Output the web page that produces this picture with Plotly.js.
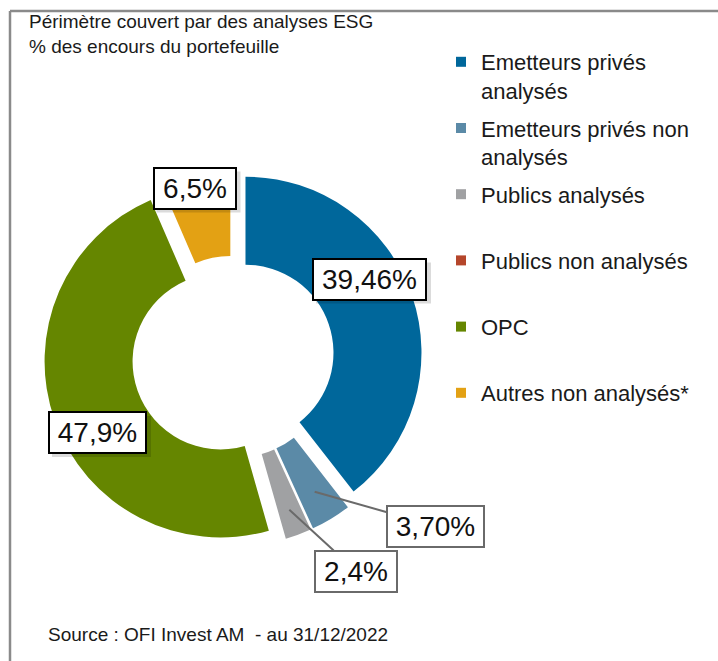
<!DOCTYPE html>
<html>
<head>
<meta charset="utf-8">
<script src="https://cdn.plot.ly/plotly-3.0.1.min.js"></script>
<style>
  html, body { margin: 0; padding: 0; background: #ffffff; }
  #chart { width: 718px; height: 661px; }
</style>
</head>
<body>
<div id="chart"></div>
<script>
// ---- Data ----
const titleLines = ["Périmètre couvert par des analyses ESG", "% des encours du portefeuille"];
const sourceText = "Source : OFI Invest AM  - au 31/12/2022";
const categories = [
  "Emetteurs privés<br>analysés",
  "Emetteurs privés non<br>analysés",
  "Publics analysés",
  "Publics non analysés",
  "OPC",
  "Autres non analysés*"
];
const values = [39.46, 3.70, 2.4, 0, 47.9, 6.5];
const labelDecimals = [2, 2, 1, 1, 1, 1];
const colors = ["#00679B", "#5B8AA7", "#A0A1A3", "#B5462B", "#658600", "#E3A114"];

// ---- Geometry (pixels) ----
const W = 718, H = 661;
const CX = 233, CY = 357, R = 176, PULL = 0.075, HOLE = 0.5;
const half = R * (1 + PULL);
const px2x = p => p / W;
const px2y = p => 1 - p / H;
const FONT = "Liberation Sans, Arial, sans-serif";
const LABEL_SIZE = 28;

const fmt = (v, d) => v.toFixed(d).replace('.', ',') + '%';
// approximate text width (Arial metrics) for box sizing
const textW = s => LABEL_SIZE * s.split('').reduce((a, ch) => a + (ch === ',' ? 0.278 : ch === '%' ? 0.889 : 0.556), 0);

const total = values.reduce((a, b) => a + b, 0);
const midAngles = [];
let cum = 0;
values.forEach(v => { midAngles.push((cum + v / 2) / total * 360); cum += v; });
function polar(i, rf) {
  const a = midAngles[i] * Math.PI / 180;
  const r = R * PULL + rf * R;
  return [CX + r * Math.sin(a), CY - r * Math.cos(a)];
}

const pie = {
  type: 'pie',
  labels: categories,
  values: values,
  sort: false,
  direction: 'clockwise',
  rotation: 0,
  hole: HOLE,
  pull: values.map(() => PULL),
  marker: { colors: colors, line: { width: 0 } },
  textinfo: 'none',
  hoverinfo: 'label+value',
  domain: { x: [px2x(CX - half), px2x(CX + half)], y: [px2y(CY + half), px2y(CY - half)] },
  showlegend: false
};

// Legend entries (one per category, same colours as the slices)
const legendTraces = categories.map((c, i) => ({
  type: 'scatter', mode: 'markers',
  x: [null], y: [null],
  name: c.includes('<br>') ? c : c + '<br>&nbsp;',
  legendgroup: 'g' + i,
  marker: { symbol: 'square', size: 10, color: colors[i] },
  showlegend: true, hoverinfo: 'skip'
}));

// Label boxes: index, box centre in px, arrow radius factor (null = no leader), border colour, shadow
const boxes = [
  { i: 0, bx: 369.5, by: 279, rf: null, bc: '#000000', sh: true },
  { i: 5, bx: 194.5, by: 188, rf: null, bc: '#000000', sh: true },
  { i: 4, bx: 97.5, by: 432.5, rf: null, bc: '#000000', sh: true },
  { i: 1, bx: 435.5, by: 526, rf: 0.82, bc: '#6A6A6A', sh: false },
  { i: 2, bx: 356, by: 571, rf: 0.85, bc: '#6A6A6A', sh: false }
];

const BOX_H = 41, PADX = 8;
const annotations = [];
const shapes = [];
boxes.forEach(b => {
  const txt = fmt(values[b.i], labelDecimals[b.i]);
  const w = Math.round(textW(txt) + PADX);
  if (b.sh) {
    const fullW = w + 2 * 4 + 4;
    shapes.push({
      type: 'rect', xref: 'paper', yref: 'paper', layer: 'above',
      x0: px2x(b.bx - fullW / 2 + 4), x1: px2x(b.bx + fullW / 2 + 4),
      y0: px2y(b.by + BOX_H / 2 + 4), y1: px2y(b.by - BOX_H / 2 + 4),
      fillcolor: 'rgba(0,0,0,0.14)', line: { width: 0 }
    });
  }
  const base = {
    text: txt, width: w,
    font: { family: FONT, size: LABEL_SIZE, color: '#111111' },
    bgcolor: '#ffffff', bordercolor: b.bc, borderwidth: 2, borderpad: 4
  };
  if (b.rf === null) {
    annotations.push(Object.assign(base, {
      xref: 'paper', yref: 'paper', x: px2x(b.bx), y: px2y(b.by),
      xanchor: 'center', yanchor: 'middle', showarrow: false
    }));
  } else {
    const [tx, ty] = polar(b.i, b.rf);
    annotations.push(Object.assign(base, {
      xref: 'paper', yref: 'paper', x: px2x(tx), y: px2y(ty),
      showarrow: true, arrowhead: 0, arrowwidth: 2, arrowcolor: '#6A6A6A',
      ax: b.bx - tx, ay: b.by - ty, standoff: 0
    }));
  }
});

// Title and source as text
annotations.push({
  xref: 'paper', yref: 'paper', x: px2x(27), y: px2y(34), xanchor: 'left', yanchor: 'middle',
  align: 'left', showarrow: false, text: titleLines.join('<br>'),
  font: { family: FONT, size: 19, color: '#1a1a1a' }
});
annotations.push({
  xref: 'paper', yref: 'paper', x: px2x(46), y: px2y(634), xanchor: 'left', yanchor: 'middle',
  showarrow: false, text: sourceText, font: { family: FONT, size: 19, color: '#1a1a1a' }
});

const frame = { color: '#8A8A8A', width: 2.5 };
shapes.push(
  { type: 'line', xref: 'paper', yref: 'paper', x0: px2x(10), x1: 1, y0: px2y(11), y1: px2y(11), line: frame },
  { type: 'line', xref: 'paper', yref: 'paper', x0: px2x(10), x1: px2x(10), y0: px2y(11), y1: 0, line: frame }
);

const layout = {
  width: W, height: H,
  margin: { l: 0, r: 0, t: 0, b: 0 },
  paper_bgcolor: '#ffffff',
  plot_bgcolor: 'rgba(0,0,0,0)',
  xaxis: { visible: false, fixedrange: true },
  yaxis: { visible: false, fixedrange: true },
  showlegend: true,
  legend: {
    x: px2x(441), y: px2y(41), xanchor: 'left', yanchor: 'top',
    font: { family: FONT, size: 22, color: '#1a1a1a' },
    valign: 'top', traceorder: 'grouped', tracegroupgap: 6,
    bgcolor: 'rgba(0,0,0,0)'
  },
  annotations: annotations,
  shapes: shapes
};

Plotly.newPlot('chart', [pie].concat(legendTraces), layout, { displayModeBar: false, staticPlot: true });
</script>
</body>
</html>
